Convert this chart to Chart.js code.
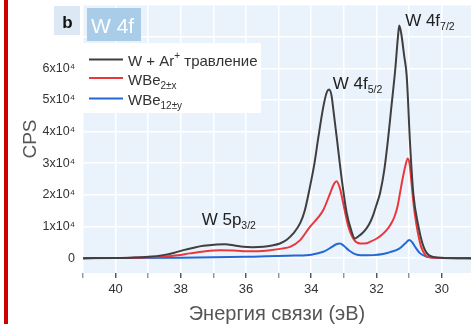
<!DOCTYPE html>
<html><head><meta charset="utf-8">
<script src="https://cdn.jsdelivr.net/npm/chart.js@4.4.1/dist/chart.umd.min.js"></script>
<style>html,body{margin:0;padding:0;background:#fff;}canvas{display:block;}</style>
</head><body>
<canvas id="c" width="471" height="324"></canvas>
<script>
// ---- data (binding energy in eV, intensity in CPS) ----
const blackEnergy = [41.0,40.0,39.5,39.0,38.54,38.2,37.92,37.6,37.31,36.9,36.64,36.35,36.08,35.8,35.47,35.2,34.96,34.75,34.55,34.34,34.2,34.04,33.9,33.78,33.63,33.52,33.45,33.38,33.3,33.22,33.06,32.91,32.78,32.66,32.55,32.42,32.3,32.2,32.1,32.0,31.89,31.76,31.64,31.55,31.42,31.34,31.3,31.24,31.15,31.07,30.97,30.87,30.71,30.6,30.51,30.4,30.26,30.0,29.5,29.1];
const blackCps = [0,50,150,400,950,1700,2530,3300,3880,4300,4420,4000,3570,3450,3570,4000,4640,5800,7800,11050,15000,22500,30000,38300,47800,52500,53300,51500,45000,38300,24600,14200,9000,6200,6900,8000,9500,11200,13600,16800,20500,27800,38000,47000,60000,70000,73500,71000,64000,57300,36300,20500,9900,5000,2500,1000,400,100,0,0];

const redEnergy = [41.0,40.0,39.5,39.0,38.54,38.1,37.72,37.3,36.8,36.4,36.08,35.7,35.26,34.9,34.65,34.34,34.04,33.8,33.63,33.42,33.3,33.22,33.12,33.02,32.86,32.7,32.5,32.3,32.2,31.99,31.85,31.69,31.58,31.45,31.35,31.27,31.19,31.11,31.04,30.98,30.93,30.86,30.78,30.7,30.63,30.5,30.43,30.2,29.5,29.1];
const redCps = [0,50,100,250,400,900,1500,2100,2500,2400,2200,2200,2500,3000,3570,5700,9900,12700,15200,20500,23500,24300,22000,17400,9900,6000,4640,4700,5150,6200,7200,8840,10400,13000,16500,21000,25500,29300,31500,29500,24500,17000,11000,6500,3570,1000,400,100,0,0];

const blueEnergy = [41.0,38.0,36.0,34.5,34.0,33.63,33.4,33.25,33.12,33.0,32.85,32.6,32.3,32.09,31.8,31.58,31.3,31.12,30.99,30.9,30.81,30.66,30.5,30.35,30.0,29.1];
const blueCps = [0,100,400,800,1100,2000,3300,4300,4640,3900,2500,1100,900,950,1300,1900,3000,4600,5700,5000,3500,1500,600,300,50,0];

const seriesNames = [
  [{t:'W + Ar'},{t:'+',sup:true},{t:' травление'}],
  [{t:'WBe'},{t:'2±x',sub:true}],
  [{t:'WBe'},{t:'12±y',sub:true}]
];
const seriesColors = ['#3f3f3f','#e8383c','#2369d4'];

const peakMain = ['W 4f','W 4f','W 5p'];
const peakSub = ['7/2','5/2','3/2'];
const peakEnergy = [31.12, 33.34, 37.36];
const peakCps = [73300, 53600, 10600];

const yTickValues = [0,10000,20000,30000,40000,50000,60000,70000,80000];
const yTickMaxLabel = 60000;
const xTickValues = [30,31,32,33,34,35,36,37,38,39,40,41];

// ---- helpers ----
const fontFam = '"Liberation Sans", Arial, Helvetica, sans-serif';
function toPts(xs, ys){ return xs.map((x,i)=>({x:x, y:ys[i]})); }
function drawRich(ctx, x, y, parts, size, small, color){
  ctx.save();
  ctx.fillStyle = color; ctx.textAlign = 'left'; ctx.textBaseline = 'alphabetic';
  let cx = x;
  for (const p of parts){
    const s = (p.sub || p.sup) ? small : size;
    ctx.font = s + 'px ' + fontFam;
    const dy = p.sub ? small*0.4 : (p.sup ? -size*0.42 : 0);
    ctx.fillText(p.t, cx, y + dy);
    cx += ctx.measureText(p.t).width;
  }
  ctx.restore();
}

const bgPlugin = {
  id:'bg',
  beforeDraw(chart){
    const {ctx, chartArea:a} = chart;
    ctx.save();
    ctx.fillStyle = '#ffffff';
    ctx.fillRect(0,0,chart.width,chart.height);
    ctx.fillStyle = '#eaf3fc';
    ctx.fillRect(a.left, a.top, a.right-a.left, a.bottom-a.top);
    ctx.restore();
  }
};

const decorPlugin = {
  id:'decor',
  afterDraw(chart){
    const ctx = chart.ctx;
    const xs = chart.scales.x, ys = chart.scales.y;
    ctx.save();
    ctx.fillStyle = '#cc0000';
    ctx.fillRect(4,0,4,chart.height);
    ctx.fillStyle = '#dce9f5';
    ctx.fillRect(54,6,26,29);
    ctx.fillStyle = '#111';
    ctx.font = 'bold 17px ' + fontFam;
    ctx.textAlign = 'center'; ctx.textBaseline = 'alphabetic';
    ctx.fillText('b', 67.5, 28);
    ctx.fillStyle = '#a9cce9';
    ctx.fillRect(87,8,54,33);
    ctx.fillStyle = '#ffffff';
    ctx.font = '21px ' + fontFam;
    ctx.textAlign = 'left';
    ctx.fillText('W 4f', 91, 33);
    ctx.fillStyle = '#ffffff';
    ctx.fillRect(83,43,178,70);
    const lineY = [59.5,78,98.5];
    const textY = [65.5,84.5,105];
    for (let i=0;i<3;i++){
      ctx.strokeStyle = seriesColors[i];
      ctx.lineWidth = 2;
      ctx.beginPath(); ctx.moveTo(89,lineY[i]); ctx.lineTo(123,lineY[i]); ctx.stroke();
      drawRich(ctx, 128, textY[i], seriesNames[i], 15, 10, '#333');
    }
    ctx.restore();
    for (let i=0;i<peakMain.length;i++){
      const px = xs.getPixelForValue(peakEnergy[i]);
      const py = ys.getPixelForValue(peakCps[i]);
      drawRich(ctx, px, py, [{t:peakMain[i]},{t:peakSub[i],sub:true}], 17, 10.5, '#222');
    }
  }
};

new Chart(document.getElementById('c').getContext('2d'), {
  type:'line',
  data:{ datasets:[
    {label:'W + Ar+ травление', data:toPts(blackEnergy,blackCps), borderColor:seriesColors[0], borderWidth:2, pointRadius:0, cubicInterpolationMode:'monotone', fill:false},
    {label:'WBe2±x', data:toPts(redEnergy,redCps), borderColor:seriesColors[1], borderWidth:2, pointRadius:0, cubicInterpolationMode:'monotone', fill:false},
    {label:'WBe12±y', data:toPts(blueEnergy,blueCps), borderColor:seriesColors[2], borderWidth:2, pointRadius:0, cubicInterpolationMode:'monotone', fill:false}
  ]},
  options:{
    responsive:false, animation:false, devicePixelRatio:1,
    layout:{padding:{left:0,right:0,top:5,bottom:0}},
    plugins:{legend:{display:false}, tooltip:{enabled:false}},
    scales:{
      x:{
        type:'linear', reverse:true, min:29.1, max:41,
        afterBuildTicks(s){ s.ticks = xTickValues.map(v=>({value:v})); },
        afterFit(s){ s.height = 51; s.paddingLeft = 0; s.paddingRight = 0; },
        border:{display:false},
        grid:{color:'#ffffff', lineWidth:1.5, tickLength:5,
              tickColor:(c)=> (c.tick && Math.round(c.tick.value)%2===0) ? '#444' : '#8a8a8a',
              tickWidth:1.3},
        ticks:{autoSkip:false, maxRotation:0, padding:4,
               color:'#333', font:{family:fontFam, size:13},
               callback:(v)=> (Math.round(v)%2===0) ? String(Math.round(v)) : ''},
        title:{display:true, text:'Энергия связи (эВ)', color:'#555',
               font:{family:fontFam, size:20, lineHeight:1}, padding:{top:0,bottom:0}}
      },
      y:{
        type:'linear', min:-4700, max:80000,
        afterBuildTicks(s){ s.ticks = yTickValues.map(v=>({value:v})); },
        afterFit(s){ s.width = 83; s.paddingTop = 0; s.paddingBottom = 0; },
        border:{display:false},
        grid:{color:'#ffffff', lineWidth:1.5, drawTicks:false},
        ticks:{padding:8, color:'#333',
               font:{family:fontFam, size:12.5},
               callback:(v)=> v===0 ? '0' : (v<=yTickMaxLabel ? (v/10000)+'x10\u2074' : '')},
        title:{display:true, text:'CPS', color:'#555',
               font:{family:fontFam, size:19, lineHeight:1.2}, padding:{top:19,bottom:0}}
      }
    }
  },
  plugins:[bgPlugin, decorPlugin]
});
</script>
</body></html>
